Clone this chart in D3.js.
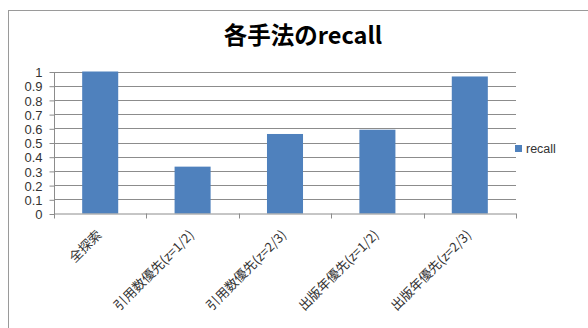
<!DOCTYPE html>
<html>
<head>
<meta charset="utf-8">
<script src="https://cdn.jsdelivr.net/npm/d3@7"></script>
<style>
  html, body { margin: 0; padding: 0; background: #fff; }
  svg { display: block; }
  text { font-family: "Noto Sans CJK JP", "Noto Sans", sans-serif; }
</style>
</head>
<body>
<svg id="chart" width="588" height="328"></svg>
<script>
// Data
const categories = ["全探索", "引用数優先(z=1/2)", "引用数優先(z=2/3)", "出版年優先(z=1/2)", "出版年優先(z=2/3)"];
const recall = [1.0, 0.33, 0.56, 0.59, 0.965];
const yTicks = [0, 0.1, 0.2, 0.3, 0.4, 0.5, 0.6, 0.7, 0.8, 0.9, 1];
const yTickLabels = ["0", "0.1", "0.2", "0.3", "0.4", "0.5", "0.6", "0.7", "0.8", "0.9", "1"];
const titleText = "各手法のrecall";
const seriesName = "recall";

const svg = d3.select("#chart");
const plot = { left: 54, right: 516, top: 71.5, bottom: 213.5 };
const barColor = "#4f81bd";
const gridColor = "#8c8c8c";
const textColor = "#333";

// Outer chart frame
svg.append("rect")
  .attr("x", 8.5).attr("y", 10.5)
  .attr("width", 590).attr("height", 330)
  .attr("fill", "#fff").attr("stroke", "#9a9a9a").attr("stroke-width", 1);

const x = d3.scaleBand().domain(categories)
  .range([plot.left, plot.right]).paddingInner(0.61).paddingOuter(0.305);
const xEdges = d3.scaleBand().domain(categories).range([plot.left, plot.right]).padding(0);
const y = d3.scaleLinear().domain([0, 1]).range([plot.bottom, plot.top]);

// Horizontal gridlines
svg.append("g").selectAll("line").data(yTicks.slice(1)).join("line")
  .attr("x1", plot.left).attr("x2", plot.right)
  .attr("y1", d => Math.round(y(d)) + 0.5).attr("y2", d => Math.round(y(d)) + 0.5)
  .attr("stroke", gridColor).attr("stroke-width", 1);

// Bars
svg.append("g").selectAll("rect").data(categories).join("rect")
  .attr("x", d => x(d))
  .attr("y", (d, i) => y(recall[i]))
  .attr("width", x.bandwidth())
  .attr("height", (d, i) => y(0) - y(recall[i]))
  .attr("fill", barColor);

// Y axis
const yAxis = d3.axisLeft(y).tickValues(yTicks)
  .tickFormat((d, i) => yTickLabels[i]).tickSize(5).tickPadding(7);
const gy = svg.append("g").attr("transform", `translate(${plot.left + 0.5},0.5)`).call(yAxis);
gy.attr("font-family", null).attr("font-size", null);
gy.select(".domain").attr("stroke", gridColor).attr("d", `M0,${plot.top}V${plot.bottom}`);
gy.selectAll(".tick line").attr("stroke", gridColor);
gy.selectAll(".tick text").attr("fill", textColor).style("font-size", "13px")
  .style("font-family", "'Liberation Sans', sans-serif").attr("dy", "0.36em");

// X axis baseline with ticks at category boundaries
const edges = categories.map(c => xEdges(c)).concat([plot.right]);
svg.append("line")
  .attr("x1", plot.left).attr("x2", plot.right)
  .attr("y1", plot.bottom + 0.5).attr("y2", plot.bottom + 0.5)
  .attr("stroke", gridColor);
svg.append("g").selectAll("line").data(edges).join("line")
  .attr("x1", d => Math.round(d) + 0.5).attr("x2", d => Math.round(d) + 0.5)
  .attr("y1", plot.bottom).attr("y2", plot.bottom + 5)
  .attr("stroke", gridColor);

// Rotated category labels
svg.append("g").selectAll("text").data(categories).join("text")
  .attr("transform", d => `translate(${x(d) + x.bandwidth() / 2 - 1},${plot.bottom + 19}) rotate(-45)`)
  .attr("text-anchor", "end")
  .attr("dy", "0.35em")
  .attr("fill", textColor)
  .style("font-size", "13px")
  .text(d => d);

// Title
svg.append("text")
  .attr("x", 303).attr("y", 44)
  .attr("text-anchor", "middle")
  .attr("fill", "#000")
  .style("font-size", "23.5px").style("font-weight", "bold")
  .text(titleText);

// Legend
const lg = svg.append("g").attr("transform", "translate(515,145)");
lg.append("rect").attr("width", 7).attr("height", 7).attr("fill", barColor);
lg.append("text").attr("x", 11).attr("y", 3.5).attr("dy", "0.35em")
  .attr("fill", textColor).style("font-size", "12.5px")
  .style("font-family", "'Liberation Sans', sans-serif")
  .text(seriesName);
</script>
</body>
</html>
